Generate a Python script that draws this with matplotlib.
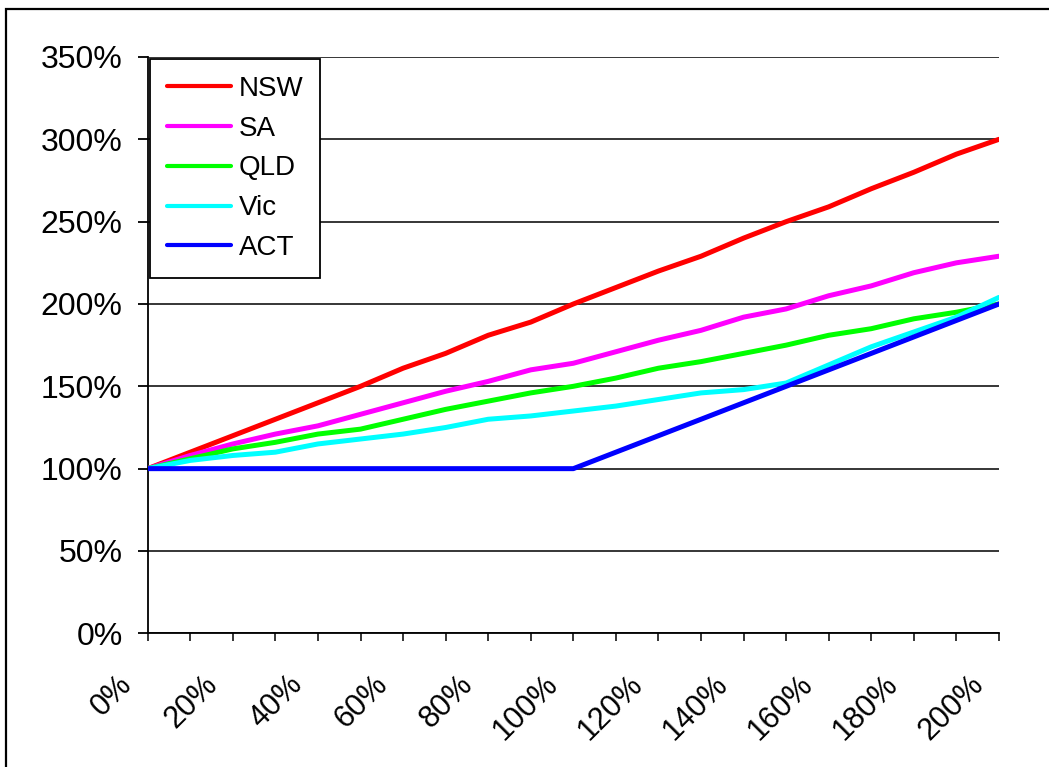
import matplotlib
matplotlib.use('Agg')
import matplotlib.pyplot as plt
from matplotlib.patches import Rectangle

plt.rcParams['font.family'] = ['Liberation Sans', 'DejaVu Sans']

# growth of each state's index as the input rises from 0% to 200%
steps = [0, 10, 20, 30, 40, 50, 60, 70, 80, 90, 100,
         110, 120, 130, 140, 150, 160, 170, 180, 190, 200]
nsw = [100, 110, 120, 130, 140, 150, 161, 170, 181, 189, 200,
       210, 220, 229, 240, 250, 259, 270, 280, 291, 300]
sa = [100, 108, 115, 121, 126, 133, 140, 147, 153, 160, 164,
      171, 178, 184, 192, 197, 205, 211, 219, 225, 229]
qld = [100, 106, 112, 116, 121, 124, 130, 136, 141, 146, 150,
       155, 161, 165, 170, 175, 181, 185, 191, 195, 200]
vic = [100, 105, 108, 110, 115, 118, 121, 125, 130, 132, 135,
       138, 142, 146, 148, 152, 163, 174, 183, 192, 204]
act = [100, 100, 100, 100, 100, 100, 100, 100, 100, 100, 100,
       110, 120, 130, 140, 150, 160, 170, 180, 190, 200]

names = ['NSW', 'SA', 'QLD', 'Vic', 'ACT']
colours = ['#ff0000', '#ff00ff', '#00ff00', '#00ffff', '#0000ff']
y_ticks = [0, 50, 100, 150, 200, 250, 300, 350]
x_labelled = [0, 20, 40, 60, 80, 100, 120, 140, 160, 180, 200]

fig = plt.figure(figsize=(10.49, 7.67), dpi=100)
ax = fig.add_axes([0.1408, 0.1743, 0.8115, 0.7514])

# outer chart border, right and bottom edges run off the page
fig.patches.append(Rectangle((6 / 1049, -0.05), 1.2, 1 - 9 / 767 + 0.05,
                             transform=fig.transFigure, fill=False,
                             edgecolor='black', linewidth=1.6, clip_on=False))

for vals, name, c in zip([nsw, sa, qld, vic, act], names, colours):
    ax.plot(steps, vals, color=c, linewidth=3.6, label=name,
            solid_joinstyle='round', solid_capstyle='round', zorder=3)

ax.set_xlim(0, 200)
ax.set_ylim(0, 350)
ax.set_yticks(y_ticks)
ax.set_yticklabels(['%d%%' % v for v in y_ticks])
ax.set_xticks(steps)
ax.set_xticklabels([])

ax.grid(axis='y', color='black', linewidth=1.1)
ax.set_axisbelow(True)
for s in ['top', 'right']:
    ax.spines[s].set_visible(False)
for s in ['left', 'bottom']:
    ax.spines[s].set_linewidth(1.3)
ax.tick_params(axis='y', length=7, width=1.3, pad=11, labelsize=23)
ax.tick_params(axis='x', length=6, width=1.1)

# rotated category labels every 20%
for v in x_labelled:
    ax.annotate('%d%%' % v, xy=(v, 0), xycoords=('data', 'axes fraction'),
                xytext=(-20, -47), textcoords='offset pixels',
                rotation=45, rotation_mode='anchor', ha='right', va='center',
                fontsize=22, annotation_clip=False)

leg = fig.legend(loc='upper left', bbox_to_anchor=(150 / 1049, 1 - 59 / 767),
                 borderaxespad=0, fontsize=20, handlelength=2.3,
                 handletextpad=0.3, labelspacing=0.5, borderpad=0.6,
                 fancybox=False, framealpha=1, edgecolor='black')
leg.get_frame().set_linewidth(1.3)
for line in leg.get_lines():
    line.set_linewidth(3)

fig.savefig('out.png', dpi=100)
